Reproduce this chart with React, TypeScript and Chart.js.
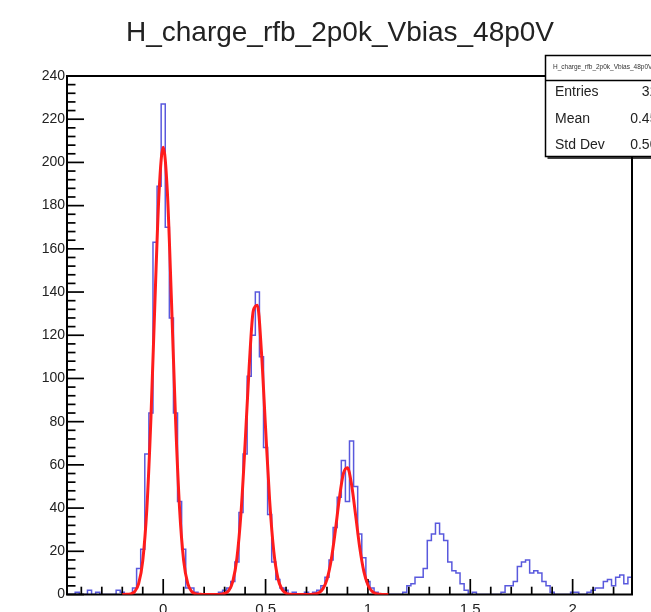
import React, { useEffect, useRef } from "react";
import { Chart, registerables } from "chart.js";

Chart.register(...registerables);

// ---------------- data ----------------
const TITLE = "H_charge_rfb_2p0k_Vbias_48p0V";

const X_MIN = -0.47;
const X_MAX = 2.29;
const BIN_WIDTH = 0.02;
const Y_MIN = 0;
const Y_MAX = 240;

// histogram bin contents, bins of 0.02 starting at -0.47
const COUNTS = [
  0, 0, 1, 0, 0, 2, 0, 1, 0, 0,
  0, 0, 2, 1, 0, 0, 3, 12, 21, 65,
  84, 163, 189, 227, 170, 128, 84, 43, 21, 3,
  3, 1, 0, 0, 0, 0, 0, 1, 2, 3,
  6, 15, 38, 65, 101, 120, 140, 110, 68, 37,
  15, 7, 3, 2, 0, 1, 0, 0, 1, 0,
  1, 2, 4, 8, 16, 31, 45, 62, 43, 71,
  50, 28, 17, 6, 3, 1, 0, 0, 0, 0,
  0, 0, 1, 4, 5, 8, 8, 12, 25, 28,
  33, 28, 25, 15, 11, 10, 5, 2, 0, 1,
  0, 0, 0, 0, 0, 0, 1, 4, 4, 6,
  13, 15, 16, 10, 11, 10, 6, 4, 1, 0,
  0, 0, 0, 1, 1, 0, 0, 1, 2, 3,
  3, 6, 7, 4, 8, 9, 5, 8,
];

// fit curve samples, every 0.02 from -0.20 to 1.10
const FIT_START = -0.2;
const FIT_STEP = 0.02;
const FIT_VALUES = [
  0, 0.1, 0.3, 1.3, 5.0, 15.6, 39.6, 81.7, 136.9, 186.7,
  207,
  186.7, 136.9, 81.7, 39.6, 15.6, 5.0, 1.3, 0.3, 0.1, 0,
  0, 0, 0, 0.1, 0.5, 1.8, 6.1, 16.8, 37.8, 69.7,
  105.6, 131.3, 133.9, 112.1, 77, 43.4, 20.1, 7.6, 2.4, 0.6,
  0.1, 0, 0, 0, 0, 0, 0.2, 0.8, 2.6, 7.0,
  15.6, 28.9, 44.2, 55.9, 58.7, 50.9, 36.6, 21.7, 10.7, 4.4,
  1.5, 0.4, 0.1, 0, 0,
];

const X_TICK_VALUES = [0, 0.5, 1, 1.5, 2];
const X_TICK_LABELS = ["0", "0.5", "1", "1.5", "2"];
const X_MINOR_STEP = 0.1;
const Y_MAJOR_STEP = 20;
const Y_MINOR_STEP = 4;

const STATS_LABELS = ["Entries", "Mean", "Std Dev"];
const STATS_VALUES = ["3215", "0.4521", "0.5063"];

// ---------------- styles ----------------
const BLUE = "rgba(60,60,215,0.85)";
const RED = "#ff1c1c";
const FONT = "'Liberation Sans', Arial, Helvetica, sans-serif";

function drawAxes(chart: any) {
  const { ctx, chartArea: a, scales } = chart;
  const xs = scales.x;
  const ys = scales.y;
  ctx.save();
  ctx.strokeStyle = "#000";
  ctx.lineWidth = 2;
  ctx.strokeRect(a.left, a.top, a.right - a.left, a.bottom - a.top);

  ctx.lineWidth = 1.7;
  // y ticks
  const nY = Math.round((Y_MAX - Y_MIN) / Y_MINOR_STEP);
  for (let k = 0; k <= nY; k++) {
    const v = Y_MIN + k * Y_MINOR_STEP;
    const y = ys.getPixelForValue(v);
    const major = Math.abs(v % Y_MAJOR_STEP) < 1e-9;
    const len = major ? 17 : 8.5;
    ctx.beginPath();
    ctx.moveTo(a.left, y);
    ctx.lineTo(a.left + len, y);
    ctx.stroke();
  }
  // x ticks
  const kStart = Math.ceil(X_MIN / X_MINOR_STEP - 1e-9);
  const kEnd = Math.floor(X_MAX / X_MINOR_STEP + 1e-9);
  for (let k = kStart; k <= kEnd; k++) {
    const v = k * X_MINOR_STEP;
    const x = xs.getPixelForValue(v);
    const major = k % 5 === 0;
    const len = major ? 15.5 : 7.8;
    ctx.beginPath();
    ctx.moveTo(x, a.bottom);
    ctx.lineTo(x, a.bottom - len);
    ctx.stroke();
  }

  // labels
  ctx.fillStyle = "#222";
  ctx.font = `14px ${FONT}`;
  ctx.textAlign = "right";
  ctx.textBaseline = "middle";
  for (let v = Y_MIN; v <= Y_MAX + 1e-9; v += Y_MAJOR_STEP) {
    ctx.fillText(String(v), a.left - 2, ys.getPixelForValue(v));
  }
  ctx.textAlign = "center";
  ctx.textBaseline = "top";
  ctx.font = `15px ${FONT}`;
  X_TICK_VALUES.forEach((v, i) => {
    ctx.fillText(X_TICK_LABELS[i], xs.getPixelForValue(v), a.bottom + 8);
  });
  ctx.restore();
}

function drawTitleAndStats(chart: any) {
  const { ctx } = chart;
  ctx.save();
  ctx.fillStyle = "#222";
  ctx.font = `28px ${FONT}`;
  ctx.textAlign = "center";
  ctx.textBaseline = "middle";
  ctx.fillText(TITLE, 340, 33);

  // stats box
  const bx = 545.5, by = 55.5, bw = 140, bh = 101;
  ctx.fillStyle = "#fff";
  ctx.fillRect(bx, by, bw, bh);
  ctx.strokeStyle = "#000";
  ctx.lineWidth = 1.5;
  ctx.strokeRect(bx, by, bw, bh);
  ctx.lineWidth = 1.5;
  ctx.beginPath();
  ctx.moveTo(bx + 2, by + bh + 1.5);
  ctx.lineTo(bx + bw + 2, by + bh + 1.5);
  ctx.stroke();
  ctx.beginPath();
  ctx.moveTo(bx, 80.5);
  ctx.lineTo(bx + bw, 80.5);
  ctx.stroke();

  ctx.fillStyle = "#333";
  ctx.font = `6.5px ${FONT}`;
  ctx.textAlign = "left";
  ctx.textBaseline = "middle";
  ctx.fillText(TITLE, 553, 67);

  ctx.font = `14px ${FONT}`;
  ctx.fillStyle = "#222";
  const rowY = [92, 119, 145];
  STATS_LABELS.forEach((lab, i) => {
    ctx.textAlign = "left";
    ctx.fillText(lab, 555, rowY[i]);
    ctx.textAlign = "right";
    ctx.fillText(STATS_VALUES[i], 673, rowY[i]);
  });
  ctx.restore();
}

const rootPlugin = {
  id: "rootStyle",
  afterDatasetDraw(chart: any, args: any) {
    if (args.index === 1) drawAxes(chart);
  },
  afterDraw(chart: any) {
    drawTitleAndStats(chart);
  },
};

export default function App() {
  const ref = useRef<HTMLCanvasElement>(null);
  useEffect(() => {
    const canvas = ref.current;
    if (!canvas) return;
    const histData = COUNTS.map((c, i) => ({ x: X_MIN + i * BIN_WIDTH, y: c }));
    histData.push({ x: X_MIN + COUNTS.length * BIN_WIDTH, y: COUNTS[COUNTS.length - 1] });
    const fitData = FIT_VALUES.map((v, i) => ({ x: FIT_START + i * FIT_STEP, y: v }));

    const chart = new Chart(canvas, {
      type: "line",
      data: {
        datasets: [
          {
            label: "fit",
            data: fitData,
            borderColor: RED,
            borderWidth: 3,
            pointRadius: 0,
            cubicInterpolationMode: "monotone",
            fill: false,
          },
          {
            label: "hist",
            data: histData,
            borderColor: BLUE,
            borderWidth: 1.5,
            pointRadius: 0,
            stepped: "before",
            fill: false,
          },
        ],
      } as any,
      options: {
        responsive: false,
        animation: false,
        devicePixelRatio: 1,
        events: [],
        layout: { padding: { left: 67, right: 19, top: 76, bottom: 17.5 } },
        plugins: {
          legend: { display: false },
          tooltip: { enabled: false },
          title: { display: false },
        },
        scales: {
          x: { type: "linear", min: X_MIN, max: X_MAX, display: false },
          y: { type: "linear", min: Y_MIN, max: Y_MAX, display: false },
        },
      } as any,
      plugins: [rootPlugin as any],
    });
    return () => chart.destroy();
  }, []);

  return (
    <div style={{ position: "absolute", left: 0, top: 0, width: 651, height: 612, background: "#fff" }}>
      <canvas ref={ref} width={651} height={612} style={{ display: "block" }} />
    </div>
  );
}
